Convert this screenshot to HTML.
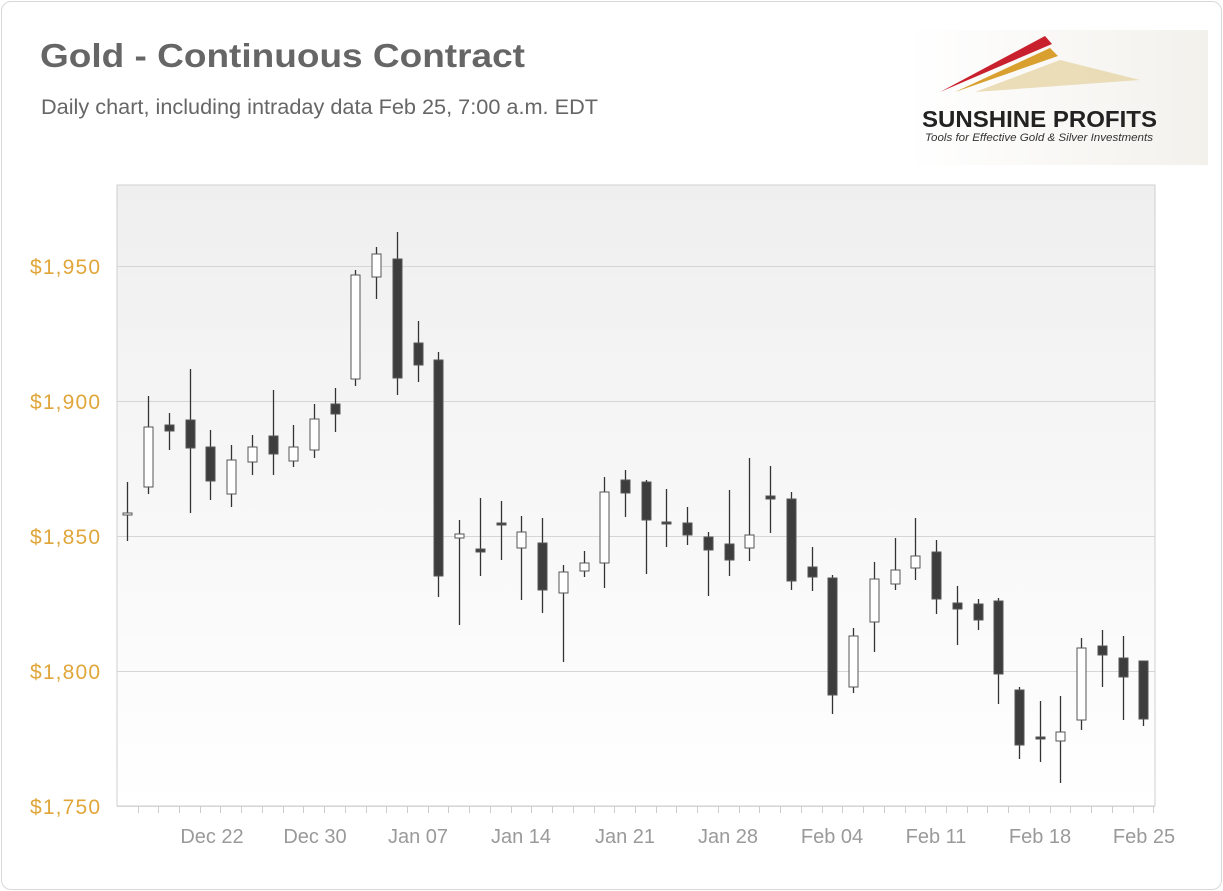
<!DOCTYPE html>
<html><head><meta charset="utf-8"><style>
html,body{margin:0;padding:0;background:#fff;}
body{width:1223px;height:891px;position:relative;overflow:hidden;font-family:"Liberation Sans",sans-serif;}
.card{position:absolute;left:1px;top:1px;width:1219px;height:887px;border:1px solid #d8d8d8;border-radius:10px;}
</style></head><body>
<div class="card"></div>
<svg width="1223" height="891" style="position:absolute;left:0;top:0" font-family="Liberation Sans, sans-serif">
<defs><linearGradient id="bg" x1="0" y1="0" x2="0" y2="1"><stop offset="0" stop-color="#efefef"/><stop offset="1" stop-color="#ffffff"/></linearGradient>
<linearGradient id="sw" x1="0" y1="0" x2="1" y2="0"><stop offset="0" stop-color="#fff"/><stop offset="1" stop-color="#f3f1ec"/></linearGradient></defs>
<text x="40" y="67" font-size="33" font-weight="bold" fill="#666" textLength="485" lengthAdjust="spacingAndGlyphs">Gold - Continuous Contract</text>
<text x="41" y="114" font-size="21" fill="#666" textLength="557" lengthAdjust="spacingAndGlyphs">Daily chart, including intraday data Feb 25, 7:00 a.m. EDT</text>
<!-- logo -->
<rect x="908" y="30" width="300" height="135" fill="url(#sw)"/>
<path d="M940 92 L1045 36 L1052 44 Z" fill="#c9202e"/>
<path d="M955 92 L1050 48 L1058 56 Z" fill="#d9a030"/>
<path d="M975 92 L1060 60 L1140 80 Z" fill="#e6d6a8" opacity="0.8"/>
<text x="922" y="127" font-size="23" font-weight="bold" fill="#222" textLength="235" lengthAdjust="spacingAndGlyphs">SUNSHINE PROFITS</text>
<text x="925" y="141" font-size="11" font-style="italic" fill="#333" textLength="228" lengthAdjust="spacingAndGlyphs">Tools for Effective Gold &amp; Silver Investments</text>
<!-- plot -->
<rect x="117" y="185" width="1038" height="621" fill="url(#bg)" stroke="#cfcfcf"/>
<g stroke="#d6d6d6" stroke-width="1">
<line x1="117" y1="266.5" x2="1155" y2="266.5"/><line x1="117" y1="401.5" x2="1155" y2="401.5"/>
<line x1="117" y1="536.5" x2="1155" y2="536.5"/><line x1="117" y1="671.5" x2="1155" y2="671.5"/>
<line x1="117" y1="806.5" x2="1155" y2="806.5"/></g>
<g font-size="21" fill="#e0a63a" text-anchor="end">
<text x="100" y="274" textLength="70">$1,950</text><text x="100" y="409" textLength="70">$1,900</text><text x="100" y="544" textLength="70">$1,850</text><text x="100" y="679" textLength="70">$1,800</text><text x="100" y="814" textLength="70">$1,750</text></g>
<g font-size="20" fill="#9a9a9a" text-anchor="middle">
<text x="212" y="843">Dec 22</text><text x="315" y="843">Dec 30</text><text x="418" y="843">Jan 07</text><text x="521" y="843">Jan 14</text><text x="625" y="843">Jan 21</text><text x="728" y="843">Jan 28</text><text x="832" y="843">Feb 04</text><text x="936" y="843">Feb 11</text><text x="1040" y="843">Feb 18</text><text x="1144" y="843">Feb 25</text></g>
<g id="ticks" stroke="#ccc"></g>
<g id="c"></g>
</svg>
<script>
var d=[[127,482,541,513,515,0],[148,396,494,427,487,0],[169,413,450,425,431,1],[190,369,513,420,448,1],[210,430,500,447,481,1],[231,445,507,460,494,0],[252,435,475,447,462,0],[273,390,475,436,454,1],[293,425,467,447,461,0],[314,404,458,419,450,0],[335,388,432,404,414,1],[355,270,386,275,379,0],[376,247,299,254,277,0],[397,232,395,259,378,1],[418,321,382,343,365,1],[438,352,597,360,576,1],[459,520,625,534,538,0],[480,498,576,549,552,1],[501,501,560,523,525,1],[521,516,600,532,548,0],[542,518,613,543,590,1],[563,565,662,572,593,0],[584,551,577,563,571,0],[604,477,588,492,563,0],[625,470,517,480,493,1],[646,480,574,482,520,1],[666,489,547,522,524,1],[687,507,545,523,535,1],[708,532,596,537,550,1],[729,490,576,544,560,1],[749,458,561,535,548,0],[770,466,533,496,499,1],[791,492,590,499,581,1],[812,547,591,567,577,1],[832,575,714,578,695,1],[853,628,693,636,687,0],[874,562,652,579,622,0],[895,538,590,570,584,0],[915,518,580,556,568,0],[936,540,614,552,599,1],[957,586,645,603,609,1],[978,599,630,604,620,1],[998,598,704,601,674,1],[1019,687,759,690,745,1],[1040,701,762,737,739,1],[1060,696,783,732,741,0],[1081,638,730,648,720,0],[1102,630,687,646,655,1],[1123,636,720,658,677,1],[1143,661,726,661,719,1]];
var ns="http://www.w3.org/2000/svg",g=document.getElementById("c"),t=document.getElementById("ticks");
function el(n,a,p){var e=document.createElementNS(ns,n);for(var k in a)e.setAttribute(k,a[k]);p.appendChild(e);}
d.forEach(function(c){
el("line",{x1:c[0]+.5,x2:c[0]+.5,y1:c[1],y2:c[2],stroke:"#333","stroke-width":1.3},g);
el("rect",{x:c[0]-4,y:c[3],width:9,height:Math.max(2,c[4]-c[3]),fill:c[5]?"#3d3d3d":"#fff",stroke:"#555","stroke-width":1},g);
});
for(var i=0;i<50;i++){var x=Math.round(137.5+i*20.73)+.5;el("line",{x1:x,x2:x,y1:806,y2:813},t);}
</script>
</body></html>
